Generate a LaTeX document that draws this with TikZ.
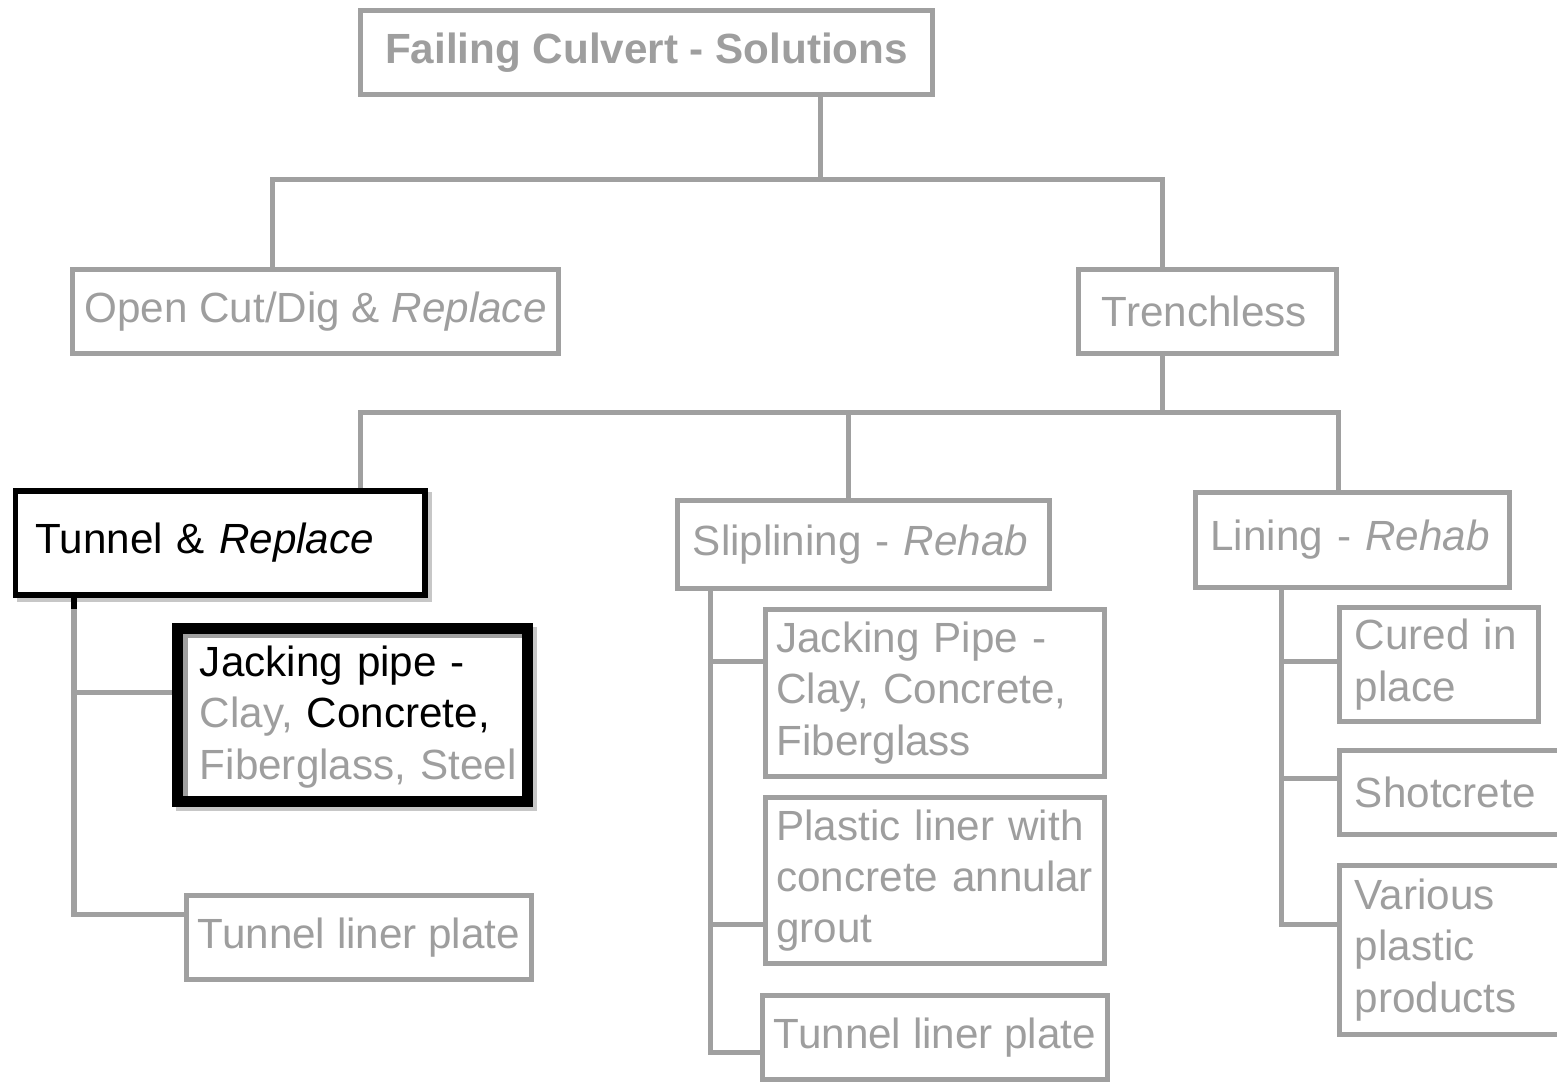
\documentclass[tikz,border=0pt]{standalone}
\usepackage{xcolor}
\usepackage{fontspec}
\setmainfont{Liberation Sans}
\usepackage{tikz}
\usetikzlibrary{positioning, backgrounds}
\definecolor{linegray}{RGB}{160,160,160}
\definecolor{txtgray}{RGB}{158,158,158}
\tikzstyle{tile} = [rectangle, draw=linegray, line width=0.05cm, text=txtgray, fill=white, inner ysep=0pt, align=left]
\tikzstyle{pick} = [tile, draw=black, text=black, line width=0.055cm]
\tikzstyle{hilite} = [rectangle, draw=black, line width=0.11cm, inner sep=0pt]
\tikzstyle{link} = [draw=linegray, line width=0.05cm]
\tikzstyle{shadowfill} = [fill=black!22]

\begin{document}
\begin{tikzpicture}[
  x=0.01cm, y=-0.01cm,
  every node/.style={font=\fontsize{12}{14.6}\selectfont}
]
\useasboundingbox (0,0) rectangle (1557,1083);

\node (root) [tile, align=center, minimum width=5.72cm, minimum height=0.84cm,
  font=\fontsize{12}{14.6}\selectfont\bfseries] at (646.5,52.5) {Failing Culvert - Solutions};

\node (opencut) [tile, align=center, minimum width=4.84cm, minimum height=0.84cm]
  at (315.5,311.5) {Open Cut/Dig \& \textit{Replace}};
\node (trench) [tile, text width=2.11cm, inner xsep=0.235cm, minimum height=0.84cm]
  at (1207.5,311.5) {Trenchless};

\node (tunnel) [pick, text width=3.695cm, inner xsep=0.2cm, minimum height=1.04cm]
  at (220.25,543) {Tunnel \& \textit{Replace}};
\node (slip) [tile, text width=3.41cm, inner xsep=0.155cm, minimum height=0.88cm]
  at (863.5,544.5) {Sliplining - \textit{Rehab}};
\node (lining) [tile, text width=2.84cm, inner xsep=0.15cm, minimum height=0.95cm]
  at (1352.5,540) {Lining - \textit{Rehab}};

\node (jack) [tile, text width=3.16cm, inner xsep=0.14cm, minimum height=1.62cm]
  at (358,717) {\textcolor{black}{Jacking pipe -}\\Clay, \textcolor{black}{Concrete,}\\\mbox{Fiberglass, Steel}};
\node (jackframe) [hilite, minimum width=3.5cm, minimum height=1.73cm] at (352.5,715) {};
\node (tliner1) [tile, align=center, minimum width=3.43cm, minimum height=0.84cm]
  at (359,937.5) {Tunnel liner plate};

\node (jp2) [tile, text width=3.17cm, inner xsep=0.11cm, minimum height=1.67cm]
  at (935,693) {Jacking Pipe -\\Clay, Concrete,\\Fiberglass};
\node (plastic) [tile, text width=3.17cm, inner xsep=0.11cm, minimum height=1.66cm]
  at (935,880.5) {Plastic liner with\\concrete annular\\grout};
\node (tliner2) [tile, align=center, minimum width=3.39cm, minimum height=0.84cm]
  at (935,1037.5) {Tunnel liner plate};

\node (cured) [tile, text width=1.685cm, inner xsep=0.15cm, minimum height=1.13cm]
  at (1439.25,664.5) {Cured in\\place};
\node (shot) [tile, text width=2.3cm, inner xsep=0.15cm, minimum height=0.84cm]
  at (1470,792.5) {Shotcrete};
\node (various) [tile, text width=2.3cm, inner xsep=0.15cm, minimum height=1.69cm]
  at (1470,950) {Various\\plastic\\products};

% bus points
\coordinate (r1) at (272,180);
\coordinate (r2) at (820,180);
\coordinate (r3) at (1162,180);
\coordinate (t1) at (360,413);
\coordinate (t2) at (848,413);
\coordinate (t3) at (1162,413);
\coordinate (t4) at (1338,413);
\coordinate (u1) at (74,693);
\coordinate (u2) at (74,915);
\coordinate (s1) at (710,662);
\coordinate (s2) at (710,925);
\coordinate (s3) at (710,1053);
\coordinate (l1) at (1281,662);
\coordinate (l2) at (1281,779);
\coordinate (l3) at (1281,925);

\draw [link] (root.south -| r2) -- (r2);
\draw [link] (opencut.north -| r1) -- (r1) -- (r3) -- (trench.north -| r3);

\draw [link] (trench.south -| t3) -- (t3);
\draw [link] (tunnel.north -| t1) -- (t1) -- (t4) -- (lining.north -| t4);
\draw [link] (t2) -- (slip.north -| t2);

\draw [link] (tunnel.south -| u1) -- (u2) -- (tliner1.west |- u2);
\draw [link] (u1) -- (jackframe.west |- u1);
\draw [black, line width=0.05cm] (tunnel.south -| u1) -- ++(0,11);

\draw [link] (slip.south -| s1) -- (s3) -- (tliner2.west |- s3);
\draw [link] (s1) -- (jp2.west |- s1);
\draw [link] (s2) -- (plastic.west |- s2);

\draw [link] (lining.south -| l1) -- (l3) -- (various.west |- l3);
\draw [link] (l1) -- (cured.west |- l1);
\draw [link] (l2) -- (shot.west |- l2);

\begin{scope}[on background layer]
  \fill [shadowfill] ([shift={(4,4)}]tunnel.north west) rectangle ([shift={(4,4)}]tunnel.south east);
  \fill [shadowfill] ([shift={(4,4)}]jackframe.north west) rectangle ([shift={(4,4)}]jackframe.south east);
\end{scope}

\end{tikzpicture}
\end{document}
